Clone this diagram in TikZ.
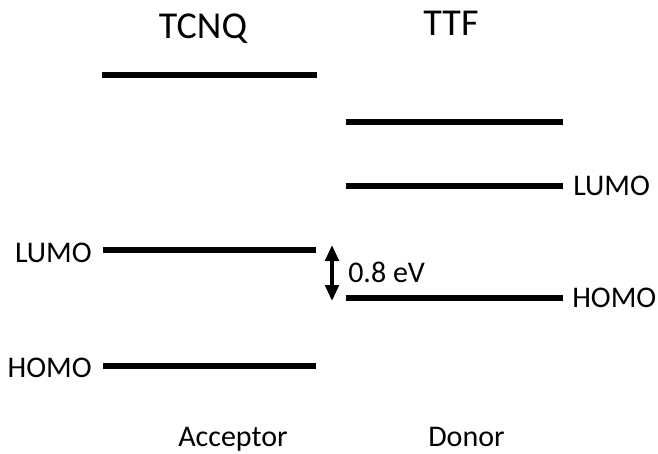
\documentclass[tikz,border=0pt]{standalone}
\usepackage{fontspec}
\setmainfont{Carlito}
\usetikzlibrary{arrows.meta}
\begin{document}
\begin{tikzpicture}[x=0.75pt,y=-0.75pt,
  level/.style={line width=3.9pt},
  lab/.style={inner sep=0pt,font=\fontsize{22.5}{25}\selectfont},
  ttl/.style={inner sep=0pt,font=\fontsize{28.5}{32}\selectfont},
  gap/.style={line width=3pt,{Triangle[length=12pt,width=10pt]}-{Triangle[length=12pt,width=10pt]}}]
\useasboundingbox (0,0) rectangle (658,454);
% energy levels of the acceptor (TCNQ)
\coordinate (a3w) at (102,75);  \coordinate (a3e) at (317,75);
\coordinate (a2w) at (103,250); \coordinate (a2e) at (316,250);
\coordinate (a1w) at (103,366); \coordinate (a1e) at (316,366);
% energy levels of the donor (TTF)
\coordinate (d3w) at (346,122); \coordinate (d3e) at (563,122);
\coordinate (d2w) at (346,186); \coordinate (d2e) at (563,186);
\coordinate (d1w) at (346,298); \coordinate (d1e) at (563,298);
\draw[level] (a3w) -- (a3e);
\draw[level] (a2w) -- (a2e);
\draw[level] (a1w) -- (a1e);
\draw[level] (d3w) -- (d3e);
\draw[level] (d2w) -- (d2e);
\draw[level] (d1w) -- (d1e);
% titles
\node[ttl,anchor=base] (tcnq) at (203,38) {TCNQ};
\node[ttl,anchor=base] (ttf) at (451,35) {TTF};
% orbital labels
\node[lab,anchor=base east] (alumo) at (92,262) {LUMO};
\node[lab,anchor=base east] (ahomo) at (92,377) {HOMO};
\node[lab,anchor=base west] (dlumo) at (573,195) {LUMO};
\node[lab,anchor=base west] (dhomo) at (572,307) {HOMO};
% energy gap
\coordinate (gtop) at (332,245);
\coordinate (gbot) at (332,301);
\draw[gap] (gtop) -- (gbot);
\node[lab,anchor=base west] (gval) at (348,282) {0.8 eV};
% roles
\node[lab,anchor=base west] (acc) at (178,446) {Acceptor};
\node[lab,anchor=base west] (don) at (428,446) {Donor};
\end{tikzpicture}
\end{document}
